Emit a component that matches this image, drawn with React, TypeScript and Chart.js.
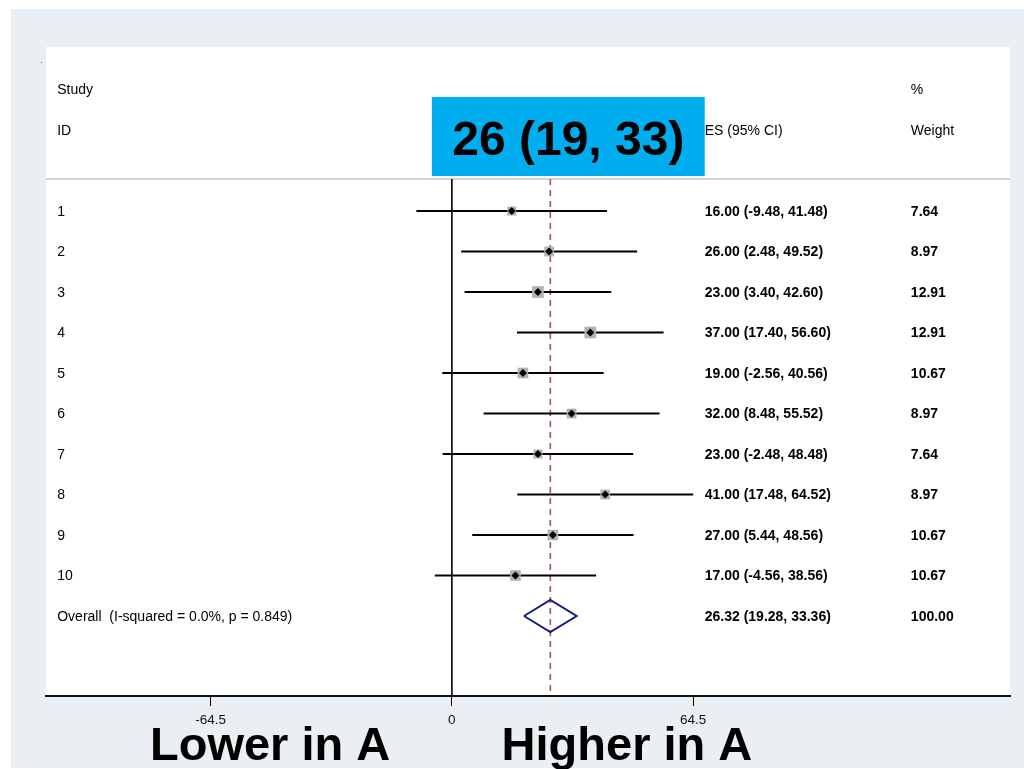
import { useEffect, useRef } from "react";
import { Chart, registerables } from "chart.js";

Chart.register(...registerables);

// ---------- data ----------
const studyIds = ["1", "2", "3", "4", "5", "6", "7", "8", "9", "10"];
const effectSizes = [16.0, 26.0, 23.0, 37.0, 19.0, 32.0, 23.0, 41.0, 27.0, 17.0];
const ciLower = [-9.48, 2.48, 3.4, 17.4, -2.56, 8.48, -2.48, 17.48, 5.44, -4.56];
const ciUpper = [41.48, 49.52, 42.6, 56.6, 40.56, 55.52, 48.48, 64.52, 48.56, 38.56];
const weights = [7.64, 8.97, 12.91, 12.91, 10.67, 8.97, 7.64, 8.97, 10.67, 10.67];

const overallLabel = "Overall  (I-squared = 0.0%, p = 0.849)";
const overallEs = [26.32];
const overallLower = [19.28];
const overallUpper = [33.36];
const overallWeight = [100.0];

const xTickValues = [-64.5, 0, 64.5];
const headerStudy = ["Study", "ID"];
const headerEs = "ES (95% CI)";
const headerWeight = ["%", "Weight"];
const summaryText = "26 (19, 33)";
const sideLabels = ["Lower in A", "Higher in A"];

// ---------- layout / style constants ----------
const X_MIN = -108.5;
const X_MAX = 149.2;
const Y_MIN = -3.05;
const Y_MAX = 12.975;
const HEADER_LINE_Y = 0.21;
const COL_STUDY = -105.5;
const COL_ES = 67.6;
const COL_WEIGHT = 122.7;
const DIAMOND_HALF = 0.395;
const FONT = "'Liberation Sans', Arial, Helvetica, sans-serif";

const fmt = (v: number) => v.toFixed(2);

const forestPlugin = {
  id: "forestText",
  beforeDraw(chart: any) {
    const { ctx, chartArea: a } = chart;
    ctx.save();
    ctx.fillStyle = "#ffffff";
    ctx.fillRect(0, 0, chart.width, chart.height);
    ctx.fillStyle = "#e9eff2";
    ctx.fillRect(11, 9, chart.width - 11, chart.height - 10);
    ctx.fillStyle = "#ffffff";
    ctx.fillRect(a.left, a.top, a.right - a.left, a.bottom - a.top);
    ctx.fillStyle = "#666";
    ctx.fillRect(a.left - 5, a.top + 15, 1, 1);
    ctx.restore();
  },
  afterDraw(chart: any) {
    const { ctx, chartArea: a } = chart;
    const xs = chart.scales.x;
    const ys = chart.scales.y;
    const px = (v: number) => xs.getPixelForValue(v);
    const py = (v: number) => ys.getPixelForValue(v) + 1;
    ctx.save();
    ctx.textBaseline = "middle";
    ctx.textAlign = "left";
    ctx.fillStyle = "#000";

    // headers
    ctx.font = `14px ${FONT}`;
    ctx.fillText(headerStudy[0], px(COL_STUDY), py(-2));
    ctx.fillText(headerStudy[1], px(COL_STUDY), py(-1));
    ctx.fillText(headerWeight[0], px(COL_WEIGHT), py(-2));
    ctx.fillText(headerWeight[1], px(COL_WEIGHT), py(-1));
    ctx.fillText(headerEs, px(COL_ES), py(-1));

    // study rows
    studyIds.forEach((id, i) => {
      ctx.font = `14px ${FONT}`;
      ctx.fillText(id, px(COL_STUDY), py(i + 1));
      ctx.font = `bold 14px ${FONT}`;
      ctx.fillText(
        `${fmt(effectSizes[i])} (${fmt(ciLower[i])}, ${fmt(ciUpper[i])})`,
        px(COL_ES),
        py(i + 1)
      );
      ctx.fillText(fmt(weights[i]), px(COL_WEIGHT), py(i + 1));
    });
    const oRow = studyIds.length + 1;
    ctx.font = `14px ${FONT}`;
    ctx.fillText(overallLabel, px(COL_STUDY), py(oRow));
    ctx.font = `bold 14px ${FONT}`;
    ctx.fillText(
      `${fmt(overallEs[0])} (${fmt(overallLower[0])}, ${fmt(overallUpper[0])})`,
      px(COL_ES),
      py(oRow)
    );
    ctx.fillText(fmt(overallWeight[0]), px(COL_WEIGHT), py(oRow));

    // summary box
    const bx0 = px(-5.35);
    const bx1 = px(COL_ES);
    const by0 = ys.getPixelForValue(-1.815);
    const by1 = ys.getPixelForValue(0.136);
    ctx.fillStyle = "#00aeef";
    ctx.fillRect(bx0, by0, bx1 - bx0, by1 - by0);
    ctx.fillStyle = "#000";
    ctx.font = `bold 48px ${FONT}`;
    ctx.textAlign = "center";
    ctx.textBaseline = "alphabetic";
    ctx.fillText(summaryText, (bx0 + bx1) / 2, ys.getPixelForValue(-0.383));

    // side labels under axis
    ctx.font = `bold 47px ${FONT}`;
    ctx.fillText(sideLabels[0], px(-48.6), a.bottom + 64);
    ctx.fillText(sideLabels[1], px(46.8), a.bottom + 64);
    ctx.restore();
  },
};

export default function App() {
  const ref = useRef<HTMLCanvasElement | null>(null);

  useEffect(() => {
    if (!ref.current) return;
    const nRows = studyIds.length;
    const oRow = nRows + 1;

    const markerDs = {
      label: "es",
      data: effectSizes.map((e, i) => ({ x: e, y: i + 1 })),
      pointStyle: "rectRot",
      pointRadius: 4,
      backgroundColor: "#000",
      borderColor: "#000",
      borderWidth: 0,
      showLine: false,
    };
    const boxDs = {
      label: "weight",
      data: effectSizes.map((e, i) => ({ x: e, y: i + 1 })),
      pointStyle: "rect",
      pointRadius: weights.map((w) => 2.3 * Math.sqrt(w)),
      backgroundColor: "#b2b2b2",
      borderWidth: 0,
      showLine: false,
    };
    const ciDs = effectSizes.map((_, i) => ({
      label: `ci${i}`,
      data: [
        { x: ciLower[i], y: i + 1 },
        { x: ciUpper[i], y: i + 1 },
      ],
      showLine: true,
      borderColor: "#000",
      borderWidth: 2.2,
      pointRadius: 0,
    }));
    const diamondDs = {
      label: "overall",
      data: [
        { x: overallLower[0], y: oRow },
        { x: overallEs[0], y: oRow - DIAMOND_HALF },
        { x: overallUpper[0], y: oRow },
        { x: overallEs[0], y: oRow + DIAMOND_HALF },
        { x: overallLower[0], y: oRow },
      ],
      showLine: true,
      borderColor: "#14207a",
      borderWidth: 2,
      pointRadius: 0,
      fill: false,
    };
    const dashedDs = {
      label: "overallLine",
      data: [
        { x: overallEs[0], y: HEADER_LINE_Y },
        { x: overallEs[0], y: Y_MAX },
      ],
      showLine: true,
      borderColor: "#a8515e",
      borderDash: [6, 5],
      borderWidth: 1.6,
      pointRadius: 0,
    };
    const zeroDs = {
      label: "zero",
      data: [
        { x: 0, y: HEADER_LINE_Y },
        { x: 0, y: Y_MAX },
      ],
      showLine: true,
      borderColor: "#000",
      borderWidth: 1.6,
      pointRadius: 0,
    };
    const headerLineDs = {
      label: "header",
      data: [
        { x: X_MIN, y: HEADER_LINE_Y },
        { x: X_MAX, y: HEADER_LINE_Y },
      ],
      showLine: true,
      borderColor: "#c4c4c4",
      borderWidth: 1.5,
      pointRadius: 0,
    };

    const chart = new Chart(ref.current, {
      type: "scatter",
      data: {
        datasets: [markerDs, boxDs, diamondDs, ...ciDs, dashedDs, zeroDs, headerLineDs] as any,
      },
      options: {
        animation: false,
        responsive: false,
        events: [],
        layout: { padding: { left: 46, top: 47, right: 14, bottom: 0 } },
        plugins: {
          legend: { display: false },
          tooltip: { enabled: false },
          title: { display: false },
        },
        scales: {
          x: {
            type: "linear",
            min: X_MIN,
            max: X_MAX,
            afterBuildTicks: (axis: any) => {
              axis.ticks = xTickValues.map((v) => ({ value: v }));
            },
            afterFit: (scale: any) => {
              scale.height = 73;
            },
            ticks: {
              autoSkip: false,
              maxRotation: 0,
              padding: 6,
              color: "#111",
              font: { family: FONT, size: 13.5 },
              callback: (v: any) => String(v),
            },
            grid: {
              drawOnChartArea: false,
              drawTicks: true,
              tickLength: 10,
              color: "#000",
              lineWidth: 1,
            },
            border: { display: true, color: "#111", width: 2 },
          },
          y: {
            type: "linear",
            display: false,
            reverse: true,
            min: Y_MIN,
            max: Y_MAX,
          },
        },
      },
      plugins: [forestPlugin],
    });
    return () => chart.destroy();
  }, []);

  return (
    <div style={{ position: "absolute", left: 0, top: 0, width: 1024, height: 769 }}>
      <canvas ref={ref} width={1024} height={769} style={{ display: "block", width: 1024, height: 769 }} />
    </div>
  );
}
